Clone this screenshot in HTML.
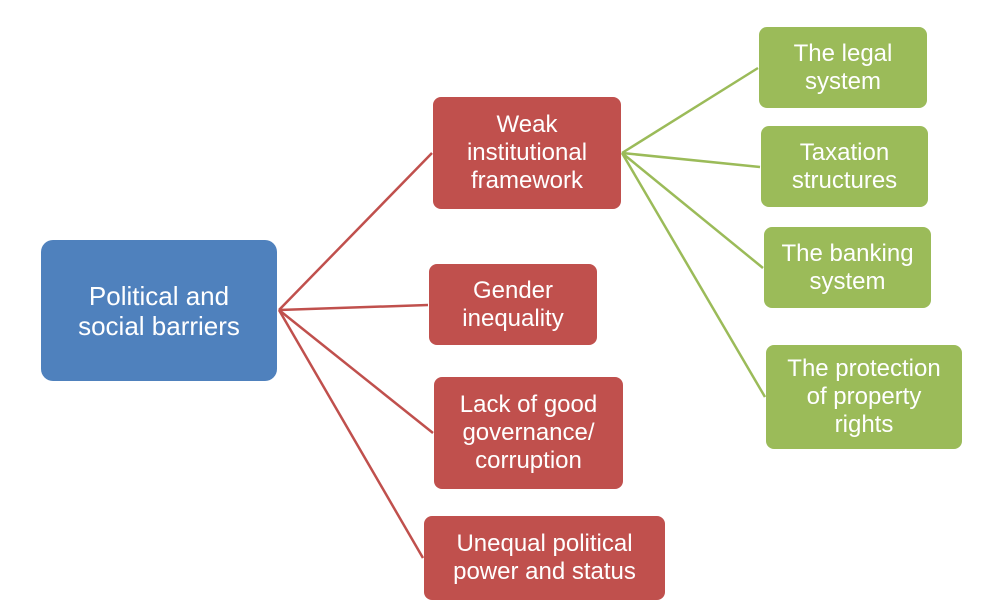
<!DOCTYPE html>
<html><head><meta charset="utf-8"><style>
body{margin:0;width:991px;height:612px;background:#fff;position:relative;overflow:hidden;font-family:"Liberation Sans",Arial,sans-serif}
.b{position:absolute;display:flex;align-items:center;justify-content:center;text-align:center;color:#fff;font-size:24px;line-height:28px;border-radius:8px;box-sizing:border-box}
.r{background:#C0504D}.g{background:#9BBB59}
</style></head><body>
<svg width="991" height="612" style="position:absolute;left:0;top:0">
<g stroke="#C0504D" stroke-width="2.5" fill="none">
<line x1="279" y1="310" x2="432" y2="153"/>
<line x1="279" y1="310" x2="428" y2="305"/>
<line x1="279" y1="310" x2="433" y2="433"/>
<line x1="279" y1="310" x2="423" y2="558"/>
</g>
<g stroke="#9BBB59" stroke-width="2.5" fill="none">
<line x1="622" y1="153" x2="758" y2="68"/>
<line x1="622" y1="153" x2="760" y2="167"/>
<line x1="622" y1="153" x2="763" y2="268"/>
<line x1="622" y1="153" x2="765" y2="397"/>
</g>
</svg>
<div class="b" style="left:41px;top:240px;width:236px;height:141px;background:#4F81BD;font-size:26px;line-height:30px;border-radius:12px">Political and<br>social barriers</div>
<div class="b r" style="left:433px;top:97px;width:188px;height:112px">Weak<br>institutional<br>framework</div>
<div class="b r" style="left:429px;top:264px;width:168px;height:81px">Gender<br>inequality</div>
<div class="b r" style="left:434px;top:377px;width:189px;height:112px">Lack of good<br>governance/<br>corruption</div>
<div class="b r" style="left:424px;top:516px;width:241px;height:84px">Unequal political<br>power and status</div>
<div class="b g" style="left:759px;top:27px;width:168px;height:81px">The legal<br>system</div>
<div class="b g" style="left:761px;top:126px;width:167px;height:81px">Taxation<br>structures</div>
<div class="b g" style="left:764px;top:227px;width:167px;height:81px">The banking<br>system</div>
<div class="b g" style="left:766px;top:345px;width:196px;height:104px">The protection<br>of property<br>rights</div>
</body></html>
